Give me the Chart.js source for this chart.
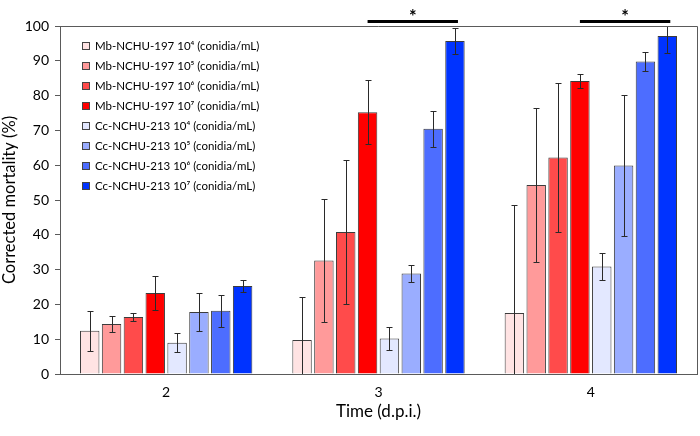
<!DOCTYPE html>
<html><head><meta charset="utf-8">
<script src="https://cdn.jsdelivr.net/npm/chart.js@4.4.0/dist/chart.umd.min.js"></script>
<style>html,body{margin:0;padding:0;background:#fff}#wrap{width:700px;height:436px}</style>
</head><body><div id="wrap"><canvas id="c" width="700" height="436"></canvas></div>
<script>
// ---- data ----
const categories = ['2', '3', '4'];
const seriesLabels = [
  'Mb-NCHU-197 10\u2074 (conidia/mL)',
  'Mb-NCHU-197 10\u2075 (conidia/mL)',
  'Mb-NCHU-197 10\u2076 (conidia/mL)',
  'Mb-NCHU-197 10\u2077 (conidia/mL)',
  'Cc-NCHU-213 10\u2074 (conidia/mL)',
  'Cc-NCHU-213 10\u2075 (conidia/mL)',
  'Cc-NCHU-213 10\u2076 (conidia/mL)',
  'Cc-NCHU-213 10\u2077 (conidia/mL)'
];
const mb1e4 = [12.4, 9.8, 17.5];
const mb1e5 = [14.4, 32.6, 54.3];
const mb1e6 = [16.4, 40.8, 62.2];
const mb1e7 = [23.3, 75.2, 84.2];
const cc1e4 = [9.0, 10.2, 30.9];
const cc1e5 = [17.8, 28.9, 59.9];
const cc1e6 = [18.2, 70.5, 89.8];
const cc1e7 = [25.3, 95.7, 97.1];
const mb1e4Err = [5.8, 12.2, 31.0];
const mb1e5Err = [2.3, 17.7, 22.1];
const mb1e6Err = [1.1, 20.7, 21.3];
const mb1e7Err = [5.0, 9.2, 2.0];
const cc1e4Err = [2.7, 3.3, 3.9];
const cc1e5Err = [5.5, 2.4, 20.3];
const cc1e6Err = [4.6, 5.2, 2.8];
const cc1e7Err = [1.7, 3.7, 4.8];
const yTicks = [0, 10, 20, 30, 40, 50, 60, 70, 80, 90, 100];
// significance brackets: category index, from series index, to series index
const sigCategory = [1, 2];
const sigFrom = [3, 3];
const sigTo = [7, 7];
const sigLabel = ['*', '*'];

const seriesValues = [mb1e4, mb1e5, mb1e6, mb1e7, cc1e4, cc1e5, cc1e6, cc1e7];
const seriesErrors = [mb1e4Err, mb1e5Err, mb1e6Err, mb1e7Err, cc1e4Err, cc1e5Err, cc1e6Err, cc1e7Err];
const colors = ['#FFE3E3', '#FF9A9A', '#FF4B4B', '#FF0000', '#E3E8FF', '#9AADFF', '#4D6DFF', '#0033FF'];

const FONT = 'Lato, "Open Sans", sans-serif';
const AXIS = '#5a5a5a';

const errorBars = {
  id: 'errorBars',
  afterDatasetsDraw(chart) {
    const ctx = chart.ctx, y = chart.scales.y, a = chart.chartArea;
    ctx.save();
    ctx.beginPath(); ctx.rect(a.left, a.top, a.right - a.left, a.bottom - a.top); ctx.clip();
    ctx.strokeStyle = '#2a2a2a'; ctx.lineWidth = 1;
    chart.data.datasets.forEach((ds, i) => {
      const meta = chart.getDatasetMeta(i);
      meta.data.forEach((bar, j) => {
        const v = ds.data[j], e = seriesErrors[i][j];
        const x = Math.round(bar.x) + 0.5;
        const yt = Math.round(y.getPixelForValue(v + e)) + 0.5;
        const yb = Math.round(y.getPixelForValue(v - e)) + 0.5;
        ctx.beginPath();
        ctx.moveTo(x, yt); ctx.lineTo(x, yb);
        ctx.moveTo(x - 3, yt); ctx.lineTo(x + 3, yt);
        ctx.moveTo(x - 3, yb); ctx.lineTo(x + 3, yb);
        ctx.stroke();
      });
    });
    ctx.restore();
  }
};

const frameAndDecor = {
  id: 'frameAndDecor',
  afterDraw(chart) {
    const ctx = chart.ctx, a = chart.chartArea;
    ctx.save();
    // top and right frame
    ctx.strokeStyle = AXIS; ctx.lineWidth = 1;
    ctx.beginPath();
    ctx.moveTo(a.left, Math.round(a.top) + 0.5);
    ctx.lineTo(Math.round(a.right) + 0.5, Math.round(a.top) + 0.5);
    ctx.lineTo(Math.round(a.right) + 0.5, a.bottom);
    ctx.stroke();
    // legend
    ctx.font = '11.5px ' + FONT;
    ctx.textBaseline = 'middle';
    ctx.textAlign = 'left';
    chart.data.datasets.forEach((ds, i) => {
      const cy = a.top + 20 + 20 * i;
      ctx.fillStyle = ds.backgroundColor;
      ctx.fillRect(82, cy - 4, 8, 8);
      ctx.strokeStyle = '#444';
      ctx.strokeRect(82.5, cy - 3.5, 7, 7);
      ctx.fillStyle = '#000';
      ctx.fillText(ds.label, 95, cy);
    });
    // significance
    sigCategory.forEach((c, k) => {
      const x1 = chart.getDatasetMeta(sigFrom[k]).data[c].x;
      const x2 = chart.getDatasetMeta(sigTo[k]).data[c].x + 3;
      const ly = a.top - 4.5;
      ctx.strokeStyle = '#000'; ctx.lineWidth = 3;
      ctx.beginPath(); ctx.moveTo(x1, ly); ctx.lineTo(x2, ly); ctx.stroke();
      ctx.fillStyle = '#000';
      ctx.font = 'bold 18px ' + FONT;
      ctx.textAlign = 'center';
      ctx.fillText(sigLabel[k], (x1 + x2) / 2, a.top - 9);
    });
    ctx.restore();
  }
};

new Chart(document.getElementById('c'), {
  type: 'bar',
  data: {
    labels: categories,
    datasets: seriesLabels.map((l, i) => ({
      label: l,
      data: seriesValues[i],
      backgroundColor: colors[i],
      borderColor: '#3c3c3c',
      borderWidth: 1,
      categoryPercentage: 0.823,
      barPercentage: 0.89
    }))
  },
  options: {
    responsive: false,
    animation: false,
    devicePixelRatio: 1,
    layout: { padding: { top: 26, right: 3, left: 0, bottom: 0 } },
    plugins: { legend: { display: false }, tooltip: { enabled: false } },
    scales: {
      x: {
        grid: { display: false, drawTicks: false },
        border: { display: true, color: AXIS, width: 1 },
        ticks: { color: '#000', font: { family: FONT, size: 14 }, padding: 10 },
        title: { display: true, text: 'Time (d.p.i.)', color: '#000', font: { family: FONT, size: 17 }, padding: { top: 0, bottom: 14 } },
        afterFit(s) { s.height = 62; }
      },
      y: {
        min: 0, max: 100,
        afterBuildTicks(s) { s.ticks = yTicks.map(v => ({ value: v })); },
        grid: { display: true, drawOnChartArea: false, drawTicks: true, tickLength: 5, color: AXIS },
        border: { display: true, color: AXIS, width: 1 },
        ticks: { color: '#000', font: { family: FONT, size: 14 }, padding: 6 },
        title: { display: true, text: 'Corrected mortality (%)', color: '#000', font: { family: FONT, size: 16.5 }, padding: { top: 0, bottom: 0 } },
        afterFit(s) { s.width = 60; }
      }
    }
  },
  plugins: [errorBars, frameAndDecor]
});
</script>
</body></html>
